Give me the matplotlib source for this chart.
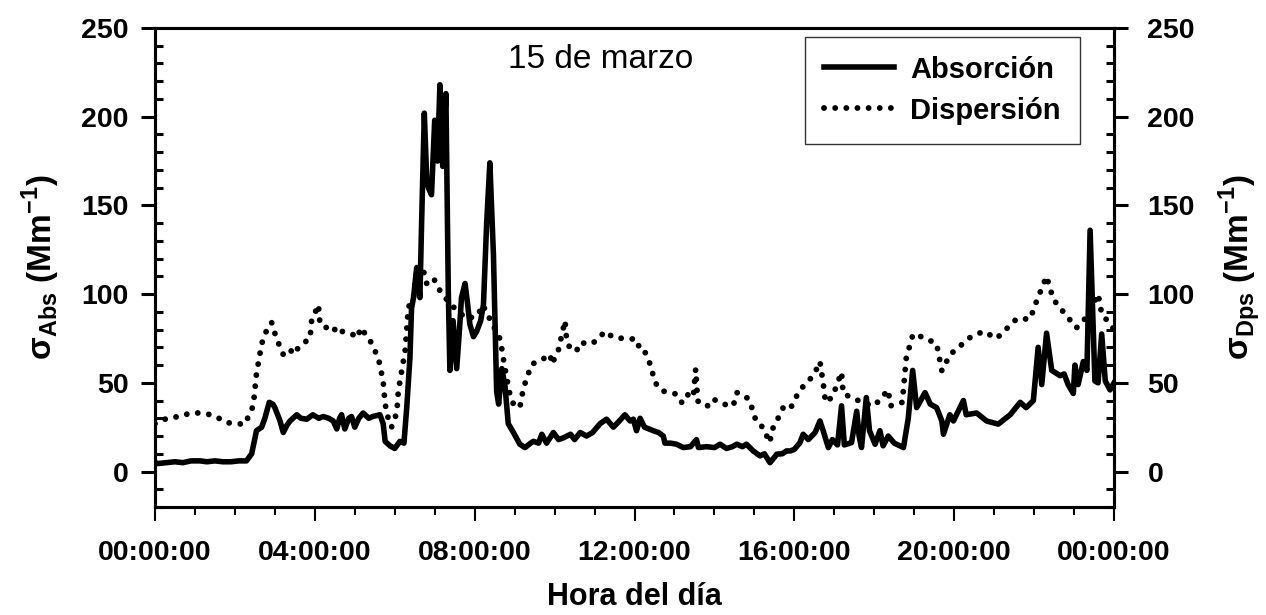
import matplotlib
matplotlib.use("Agg")
import matplotlib.pyplot as plt
from matplotlib.ticker import MultipleLocator

plt.rcParams['font.family'] = ['Liberation Sans', 'DejaVu Sans']
plt.rcParams['mathtext.fontset'] = 'custom'
plt.rcParams['mathtext.rm'] = 'Liberation Sans:bold'
plt.rcParams['mathtext.bf'] = 'Liberation Sans:bold'

# --- data (hours of day, Mm^-1) ---
abs_hours = [0.00, 0.08, 0.3, 0.5, 0.7, 0.9, 1.13, 1.3, 1.5, 1.7, 1.9, 2.1, 2.29, 2.42, 2.54, 2.67, 2.75,
             2.86, 2.95, 3.0, 3.13, 3.21, 3.3, 3.38, 3.55, 3.65, 3.8, 3.95, 4.1, 4.21, 4.35, 4.46, 4.55,
             4.62, 4.67, 4.75, 4.85, 4.92, 5.0, 5.1, 5.21, 5.35, 5.45, 5.63, 5.71, 5.76, 5.88, 6.0, 6.13,
             6.23, 6.3, 6.38, 6.42, 6.47, 6.55, 6.63, 6.67, 6.74, 6.8, 6.84, 6.92, 7.0, 7.07, 7.13, 7.2,
             7.28, 7.34, 7.38, 7.46, 7.55, 7.62, 7.67, 7.76, 7.82, 7.88, 7.97, 8.05, 8.15, 8.22, 8.3, 8.38,
             8.47, 8.55, 8.6, 8.68, 8.76, 8.84, 8.97, 9.13, 9.26, 9.4, 9.47, 9.6, 9.68, 9.8, 9.97, 10.1,
             10.22, 10.4, 10.5, 10.64, 10.8, 10.95, 11.14, 11.3, 11.47, 11.6, 11.76, 11.89, 11.97, 12.05,
             12.14, 12.25, 12.47, 12.6, 12.72, 12.76, 12.9, 13.05, 13.22, 13.4, 13.55, 13.6, 13.8, 14.0,
             14.14, 14.3, 14.45, 14.56, 14.7, 14.8, 14.97, 15.14, 15.25, 15.39, 15.5, 15.56, 15.7, 15.8,
             15.9, 16.0, 16.14, 16.22, 16.35, 16.52, 16.64, 16.72, 16.85, 16.95, 17.08, 17.18, 17.25,
             17.43, 17.56, 17.62, 17.68, 17.8, 17.88, 18.02, 18.14, 18.22, 18.35, 18.5, 18.73, 18.85,
             18.96, 19.06, 19.27, 19.4, 19.56, 19.69, 19.73, 19.89, 19.98, 20.23, 20.3, 20.56, 20.81,
             21.1, 21.4, 21.65, 21.8, 21.98, 22.1, 22.19, 22.31, 22.44, 22.65, 22.75, 22.85, 22.98, 23.02,
             23.1, 23.23, 23.32, 23.4, 23.52, 23.6, 23.69, 23.78, 23.9, 24.0]
abs_values = [5, 4.5, 5, 5.5, 5, 6, 6, 5.5, 6, 5.5, 5.5, 6, 6, 10, 23, 25, 30,
              39, 38, 36, 28.5, 22, 26, 28.5, 32, 30, 29.5, 32, 30, 31, 30, 28.5, 24,
              30, 32, 24, 30, 31, 25, 30, 33, 30, 31, 32, 27, 17, 14.5, 13, 17,
              16, 36, 64, 92, 98, 115, 98, 138, 202, 165, 160, 156, 198, 175, 218, 172,
              213, 102, 57, 85, 58, 80, 98, 106, 95, 83, 76, 79, 85, 94, 140, 174,
              122, 45, 38, 58, 48, 27, 22, 15.4, 13.5, 16, 17, 16, 21, 16, 22, 18,
              19, 21, 18, 22, 20, 22, 27, 29.5, 25, 28, 32, 28.5, 29.5, 23,
              30, 25, 23, 22, 20, 16, 16, 15.4, 13.5, 14, 18, 13.5, 14, 13.5,
              15.4, 13, 14, 15.4, 14, 15.4, 11.6, 8.8, 10, 5, 8, 9.8, 10, 11.6,
              11.6, 12.5, 16.3, 21, 18, 22, 28.5, 23, 13.5, 18, 15, 37, 15,
              16.3, 34, 20, 13.5, 41.7, 23, 15.4, 23, 14.5, 20, 16, 13.5, 30,
              57, 36, 44.5, 38, 36, 28.5, 21, 32, 28.5, 40, 32, 33, 28.5,
              26.7, 32, 39, 36, 40, 70, 49, 78, 57, 54, 55, 49, 44, 60,
              49, 62, 57, 136, 51, 50, 77.5, 51, 46, 50]

dps_hours = [0.0, 0.08, 0.3, 0.6, 0.9, 1.13, 1.4, 1.6, 1.79, 2.0, 2.25, 2.46, 2.54, 2.67, 2.8, 2.92,
             3.04, 3.21, 3.38, 3.46, 3.63, 3.88, 3.92, 4.09, 4.13, 4.3, 4.46, 4.55, 4.7, 4.88, 5.09,
             5.13, 5.25, 5.38, 5.59, 5.71, 5.76, 5.84, 5.92, 6.05, 6.09, 6.26, 6.34, 6.47, 6.55, 6.72,
             6.8, 6.97, 7.13, 7.26, 7.5, 7.8, 8.08, 8.2, 8.4, 8.63, 8.68, 8.73, 8.8, 8.88, 8.97, 9.13,
             9.22, 9.34, 9.43, 9.68, 9.89, 9.93, 10.09, 10.26, 10.3, 10.39, 10.55, 10.64, 10.89, 11.05,
             11.26, 11.47, 11.72, 12.05, 12.14, 12.25, 12.34, 12.43, 12.47, 12.55, 12.68, 12.89, 13.05,
             13.18, 13.3, 13.47, 13.53, 13.58, 13.64, 13.85, 13.97, 14.22, 14.47, 14.56, 14.76, 14.89,
             14.97, 15.06, 15.22, 15.31, 15.39, 15.43, 15.56, 15.72, 15.89, 16.06, 16.22, 16.39, 16.52,
             16.64, 16.72, 16.78, 16.95, 17.18, 17.22, 17.4, 17.6, 17.8, 18.0, 18.35, 18.4, 18.7, 18.8,
             18.97, 19.23, 19.56, 19.69, 19.9, 20.4, 20.73, 21.06, 21.56, 21.9, 22.06, 22.31, 22.48,
             22.73, 23.06, 23.31, 23.6, 23.69, 23.9, 24.0]
dps_values = [27, 27.6, 30, 31, 33, 33, 32, 30, 27.6, 27, 26.7, 37, 55, 72, 80, 84,
              75, 66, 69, 66, 71, 75, 85, 94, 83, 81, 82, 77.5, 79, 78, 75.6,
              81, 78, 74, 64, 51, 38, 29.5, 25, 33, 45.5, 68, 92.5, 98, 113, 113,
              106, 109, 102, 98, 92, 86, 88, 94, 85, 75, 69, 62, 53, 43.6, 38, 36,
              47, 55, 60.5, 63, 66, 60.5, 68, 85, 74.6, 69, 68, 72.7, 71.8, 73.7,
              79, 75.6, 75, 74.6, 68.4, 68, 63, 58.6, 53, 49, 45.5, 44.5, 43.6,
              39, 43.6, 41.7, 57.7, 40, 38, 37, 40.8, 38, 37, 44.5, 42.7, 39.8,
              33, 27.6, 24.8, 20, 16.3, 23, 28.5, 36, 35, 42.7, 48, 52, 56,
              62, 50, 39, 42, 56, 44, 42, 40, 38, 37, 46, 37, 39, 64,
              77.5, 75.6, 72, 56.8, 66, 75.6, 79, 75, 86, 86, 96, 110, 97,
              90, 81, 87, 100, 89, 83, 80]

x_ticks = [0, 4, 8, 12, 16, 20, 24]
x_tick_labels = ["00:00:00", "04:00:00", "08:00:00", "12:00:00", "16:00:00", "20:00:00", "00:00:00"]
y_ticks = [0, 50, 100, 150, 200, 250]

fig = plt.figure(figsize=(12.66, 6.15), dpi=100)
ax = fig.add_axes([0.1224, 0.1756, 0.7576, 0.7789])
ax2 = ax.twinx()

ax.plot(dps_hours, dps_values, color='black', linewidth=4.2, linestyle=(0, (0.01, 1.9)),
        dash_capstyle='round', label='Dispersión', zorder=2)
ax.plot(abs_hours, abs_values, color='black', linewidth=4.0, solid_joinstyle='round',
        label='Absorción', zorder=3)

for a in (ax, ax2):
    a.set_xlim(0, 24)
    a.set_ylim(-20, 250)
    a.set_yticks(y_ticks)
    a.yaxis.set_minor_locator(MultipleLocator(10))
    for s in a.spines.values():
        s.set_linewidth(2.2)

ax.set_xticks(x_ticks)
ax.set_xticklabels(x_tick_labels)
ax.xaxis.set_minor_locator(MultipleLocator(1))

ax.tick_params(axis='x', which='major', direction='out', length=10, width=1.5, labelsize=20.5, pad=14)
ax.tick_params(axis='x', which='minor', direction='out', length=6, width=1.5)
ax.tick_params(axis='y', which='major', direction='out', length=10, width=2.2, labelsize=20.5, pad=9)
ax.tick_params(axis='y', which='minor', direction='in', length=6, width=2.2)
ax2.tick_params(axis='y', which='major', direction='out', length=10, width=2.2, labelsize=20.5, pad=14)
ax2.tick_params(axis='y', which='minor', direction='in', length=6, width=2.2)
for lab in ax.get_xticklabels() + ax.get_yticklabels() + ax2.get_yticklabels():
    lab.set_fontweight('bold')

ax.set_xlabel('Hora del día', fontsize=22, fontweight='bold', labelpad=11)
ax.set_ylabel('σ$_{\\mathregular{Abs}}$ (Mm$^{\\mathregular{-1}}$)', fontsize=24, fontweight='bold', labelpad=14)
ax2.set_ylabel('σ$_{\\mathregular{Dps}}$ (Mm$^{\\mathregular{-1}}$)', fontsize=24, fontweight='bold', labelpad=15)

ax.text(0.4645, 0.935, '15 de marzo', transform=ax.transAxes, ha='center', va='center', fontsize=24)

h1, l1 = ax.get_legend_handles_labels()
leg = ax.legend([h1[1], h1[0]], [l1[1], l1[0]], loc='upper right', bbox_to_anchor=(0.964, 0.982),
                prop={'weight': 'bold', 'size': 21}, frameon=True, fancybox=False,
                handlelength=2.4, borderpad=0.65, labelspacing=0.45, handletextpad=0.55, borderaxespad=0)
leg.get_frame().set_edgecolor('black')
leg.get_frame().set_linewidth(1.0)

fig.savefig('out.png', dpi=100)
